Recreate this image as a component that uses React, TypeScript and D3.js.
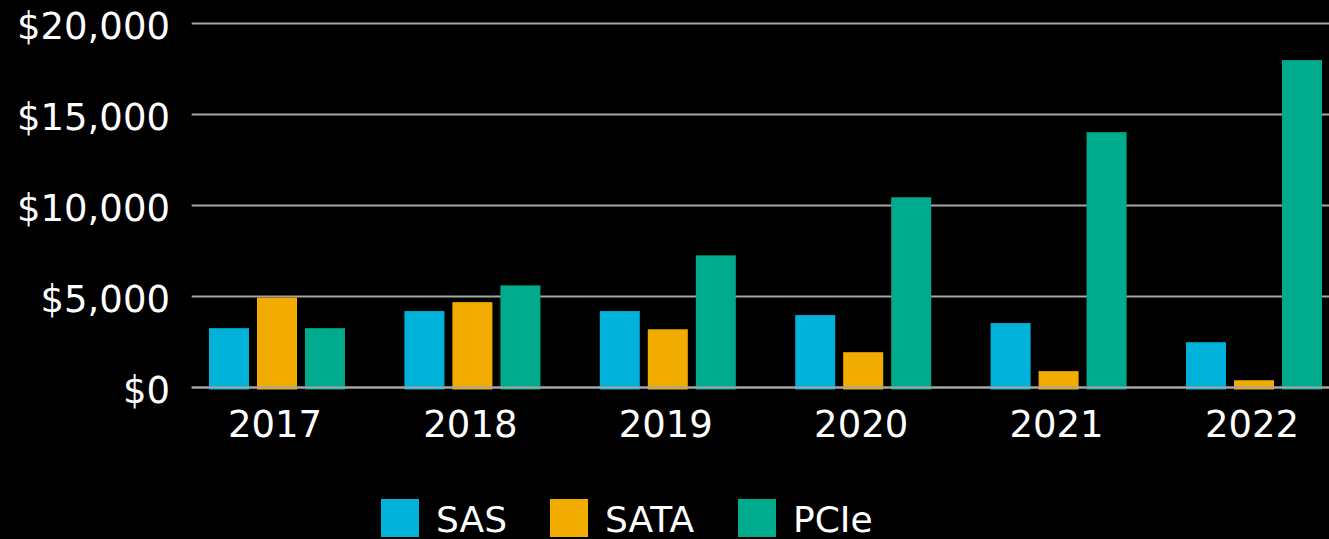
import React from "react";
import * as d3 from "d3";

const years = ["2017", "2018", "2019", "2020", "2021", "2022"];
const seriesNames = ["SAS", "SATA", "PCIe"];
const sasValues = [3260, 4200, 4200, 3980, 3540, 2490];
const sataValues = [4940, 4690, 3200, 1940, 900, 400];
const pcieValues = [3260, 5610, 7260, 10450, 14030, 17990];
const yTicks = [0, 5000, 10000, 15000, 20000];
const colors = ["#00B1D9", "#F2AC00", "#00AA8D"];

const W = 1329;
const H = 539;
const FONT = "'DejaVu Sans', Verdana, sans-serif";

export default function App() {
  const seriesValues = [sasValues, sataValues, pcieValues];
  const x0 = d3.scaleBand<string>().domain(years).range([179.3, 1351.7]).padding(0);
  const x1 = d3
    .scaleBand<string>()
    .domain(seriesNames)
    .range([29.7, 165.7])
    .paddingInner(1 / 6)
    .paddingOuter(0);
  const y = d3.scaleLinear().domain([0, 20000]).range([387.5, 23.5]);
  const fmt = (v: number) => "$" + d3.format(",")(v);

  const legendX = [381, 550, 738];

  return (
    <svg
      width={W}
      height={H}
      style={{ position: "absolute", left: 0, top: 0, background: "#000" }}
    >
      <rect x={0} y={0} width={W} height={H} fill="#000" />
      {yTicks.map((t) => (
        <g key={t}>
          <line x1={191.7} x2={W} y1={y(t)} y2={y(t)} stroke="#A6A6A6" strokeWidth={2} />
          <text
            x={170}
            y={y(t) + 15}
            textAnchor="end"
            fill="#fff"
            fontFamily={FONT}
            fontSize={37}
          >
            {fmt(t)}
          </text>
        </g>
      ))}
      {years.map((yr, i) => (
        <g key={yr} transform={`translate(${x0(yr)},0)`}>
          {seriesNames.map((s, j) => {
            const v = seriesValues[j][i];
            return (
              <rect
                key={s}
                x={x1(s)}
                y={y(v)}
                width={x1.bandwidth()}
                height={y(0) - y(v) + 2}
                fill={colors[j]}
              />
            );
          })}
        </g>
      ))}
      <line x1={191.7} x2={W} y1={y(0)} y2={y(0)} stroke="#A6A6A6" strokeWidth={2} />
      {years.map((yr) => (
        <text
          key={yr}
          x={(x0(yr) as number) + x0.bandwidth() / 2 - 2}
          y={437}
          textAnchor="middle"
          fill="#fff"
          fontFamily={FONT}
          fontSize={37}
        >
          {yr}
        </text>
      ))}
      {seriesNames.map((s, j) => (
        <g key={s}>
          <rect x={legendX[j]} y={499} width={38} height={38} fill={colors[j]} />
          <text x={legendX[j] + 55} y={532} fill="#fff" fontFamily={FONT} fontSize={36}>
            {s}
          </text>
        </g>
      ))}
    </svg>
  );
}
